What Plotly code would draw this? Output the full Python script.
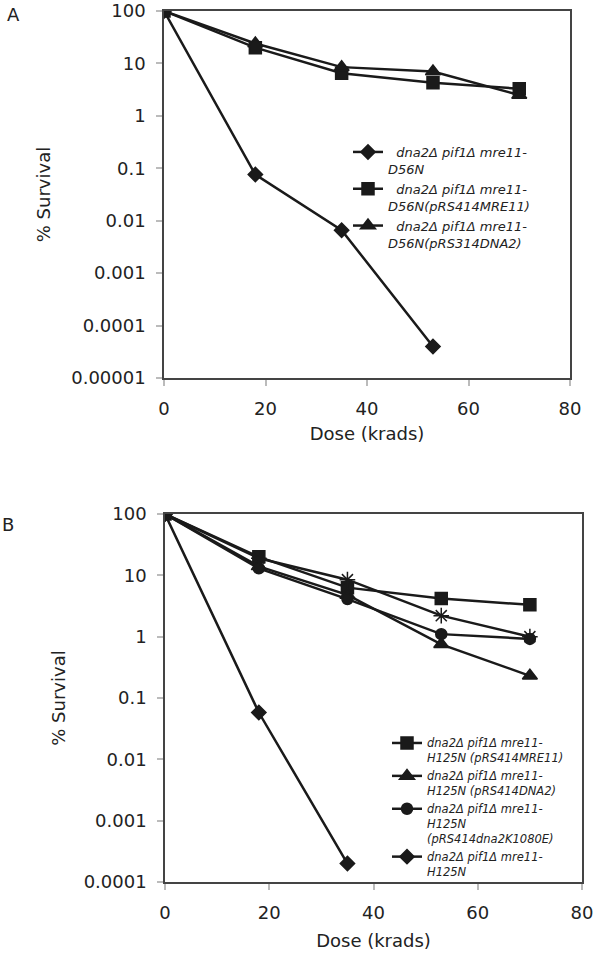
import plotly.graph_objects as go

# ---------------- data ----------------
dose_a = [0, 18, 35, 53, 70]
a_d56n = [100, 0.076, 0.0066, 0.00004]
a_mre11 = [100, 20, 6.5, 4.3, 3.3]
a_dna2 = [100, 24, 8.5, 7, 2.5]
names_a = [
    "<i>\u00a0\u00a0dna2Δ pif1Δ mre11-<br>D56N</i>",
    "<i>\u00a0\u00a0dna2Δ pif1Δ mre11-<br>D56N(pRS414MRE11)</i>",
    "<i>\u00a0\u00a0dna2Δ pif1Δ mre11-<br>D56N(pRS314DNA2)</i>",
]

dose_b = [0, 18, 35, 53, 70]
b_mre11 = [100, 20, 6.3, 4.2, 3.3]
b_dna2 = [100, 14, 4.8, 0.75, 0.23]
b_k1080e = [100, 13, 4.1, 1.1, 0.92]
b_h125n = [100, 0.058, 0.0002]
b_extra = [100, 19, 8.5, 2.2, 1.0]
names_b = [
    "<i>dna2Δ pif1Δ mre11-<br>H125N (pRS414MRE11)</i>",
    "<i>dna2Δ pif1Δ mre11-<br>H125N (pRS414DNA2)</i>",
    "<i>dna2Δ pif1Δ mre11-<br>H125N<br>(pRS414dna2K1080E)</i>",
    "<i>dna2Δ pif1Δ mre11-<br>H125N</i>",
]

ticks_a = [100, 10, 1, 0.1, 0.01, 0.001, 0.0001, 0.00001]
ticks_b = [100, 10, 1, 0.1, 0.01, 0.001, 0.0001]
x_ticks = [0, 20, 40, 60, 80]

W, H = 598, 957
BLACK = "#1a1a1a"
LW = 2.5

fig = go.Figure()

def add(x, y, name, symbol, size, xa, ya, leg, show=True):
    fig.add_trace(go.Scatter(
        x=x[:len(y)], y=y, name=name, mode="lines+markers",
        line=dict(color=BLACK, width=LW),
        marker=dict(symbol=symbol, size=size, color=BLACK,
                    line=dict(color=BLACK, width=1.5)),
        xaxis=xa, yaxis=ya, legend=leg, showlegend=show,
    ))

add(dose_a, a_d56n, names_a[0], "diamond", 11, "x", "y", "legend")
add(dose_a, a_mre11, names_a[1], "square", 12, "x", "y", "legend")
add(dose_a, a_dna2, names_a[2], "triangle-up", 13, "x", "y", "legend")

add(dose_b, b_mre11, names_b[0], "square", 12, "x2", "y2", "legend2")
add(dose_b, b_dna2, names_b[1], "triangle-up", 13, "x2", "y2", "legend2")
add(dose_b, b_k1080e, names_b[2], "circle", 11, "x2", "y2", "legend2")
add(dose_b, b_h125n, names_b[3], "diamond", 11, "x2", "y2", "legend2")
add(dose_b, b_extra, "extra", "asterisk-open", 13, "x2", "y2", "legend2", show=False)

FONT = "DejaVu Sans"
TICKFONT = dict(family=FONT, size=18, color="#222")

def xdom(l, r):
    return [l / W, r / W]

def ydom(t, b):
    return [1 - b / H, 1 - t / H]

axis_common = dict(showline=True, linecolor="#444", linewidth=1.5, mirror=True,
                   showgrid=False, zeroline=False, ticks="outside", ticklen=6,
                   tickcolor="#bbb", tickwidth=1.5, tickfont=TICKFONT, automargin=False)

def fmt(t):
    return str(t) if t >= 1 else f"{t:.5f}".rstrip("0")

fig.update_layout(
    width=W, height=H, margin=dict(l=0, r=0, t=0, b=0, autoexpand=False),
    paper_bgcolor="white", plot_bgcolor="white",
    font=dict(family=FONT, color="#222"),
    hovermode=False,
    xaxis=dict(domain=xdom(164, 570), range=[0, 80], tickvals=x_ticks,
               anchor="y", ticklabelstandoff=8,
               title=dict(text="Dose (krads)", font=dict(family=FONT, size=18), standoff=9),
               **axis_common),
    yaxis=dict(domain=ydom(11, 378), type="log", range=[-5, 2], tickvals=ticks_a,
               ticktext=[fmt(t) for t in ticks_a],
               anchor="x", ticklabelstandoff=7,
               title=dict(text="% Survival", font=dict(family=FONT, size=18), standoff=16),
               **axis_common),
    xaxis2=dict(domain=xdom(165, 582), range=[0, 80], tickvals=x_ticks,
                anchor="y2", ticklabelstandoff=8,
                title=dict(text="Dose (krads)", font=dict(family=FONT, size=18), standoff=12),
                **axis_common),
    yaxis2=dict(domain=ydom(514, 882), type="log", range=[-4, 2], tickvals=ticks_b,
                ticktext=[fmt(t) for t in ticks_b],
                anchor="x2", ticklabelstandoff=7,
                title=dict(text="% Survival", font=dict(family=FONT, size=18), standoff=13),
                **axis_common),
    legend=dict(x=348 / W, y=1 - 137 / H, xanchor="left", yanchor="top",
                font=dict(family=FONT, size=13, color="#222"), bgcolor="rgba(0,0,0,0)",
                valign="top", tracegroupgap=0, itemwidth=30),
    legend2=dict(x=387 / W, y=1 - 729 / H, xanchor="left", yanchor="top",
                 font=dict(family=FONT, size=11.5, color="#222"), bgcolor="rgba(0,0,0,0)",
                 valign="top", tracegroupgap=0, itemwidth=30),
    annotations=[
        dict(text="A", x=14 / W, y=1 - 14 / H, xref="paper", yref="paper",
             xanchor="center", yanchor="middle",
             showarrow=False, font=dict(family=FONT, size=18, color="#222")),
        dict(text="B", x=8 / W, y=1 - 524 / H, xref="paper", yref="paper",
             xanchor="center", yanchor="middle",
             showarrow=False, font=dict(family=FONT, size=18, color="#222")),
    ],
)

fig.write_html("out.html", config={"displayModeBar": False},
               post_script="document.body.style.margin='0px';")
